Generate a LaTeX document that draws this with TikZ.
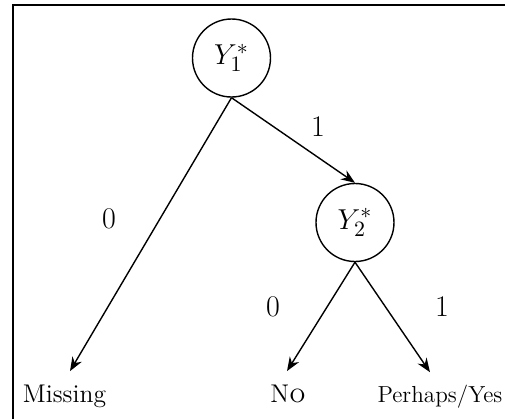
\documentclass[tikz,border=0pt]{standalone}
\usetikzlibrary{arrows.meta}
\begin{document}
\begin{tikzpicture}[x=0.5pt,y=-0.5pt,
  every node/.style={font=\fontsize{12.8}{15}\selectfont},
  state/.style={draw,circle,line width=0.7pt,minimum size=39pt,inner sep=0pt,
    font=\fontsize{15.5}{18}\selectfont},
  outcome/.style={anchor=base,inner xsep=2pt,inner ysep=6.5pt},
  branch/.style={font=\fontsize{15}{18}\selectfont},
  arr/.style={line width=0.7pt,-{Stealth[length=7pt,width=5.4pt]}}]
  \useasboundingbox (0,0) rectangle (505,419);
  % frame
  \draw[line width=1.1pt] (13,419) |- (505,5);
  % chance nodes
  \node[state] (y1) at (231.5,58) {$Y_1^*$};
  \node[state] (y2) at (355,222.5) {$Y_2^*$};
  % outcomes
  \node[outcome] (miss) at (64.5,402) {Missing};
  \node[outcome] (no) at (288,402) {N\textsc{o}};
  \node[outcome,font=\fontsize{11.6}{14}\selectfont] (yes) at (440,402) {Perhaps/Yes};
  % branches
  \draw[arr] (y1.south) -- (y2.north);
  \draw[arr] (y1.south) -- ([xshift=2.75pt]miss.north);
  \draw[arr] (y2.south) -- ([xshift=-0.5pt]no.north);
  \draw[arr] (y2.south) -- ([xshift=-5pt,yshift=-0.5pt]yes.north);
  % branch labels
  \node[branch] (l1) at (318,127) {1};
  \node[branch] (l0) at (109,219) {0};
  \node[branch] (m0) at (273,307) {0};
  \node[branch] (m1) at (442,307) {1};
\end{tikzpicture}
\end{document}
